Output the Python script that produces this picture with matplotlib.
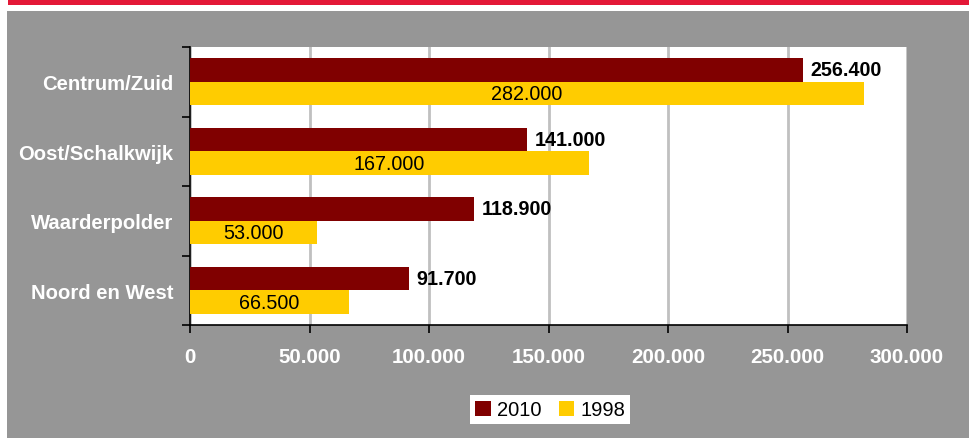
import matplotlib
matplotlib.use("Agg")
import matplotlib.pyplot as plt
from matplotlib.patches import Rectangle
from matplotlib.ticker import FuncFormatter, FixedLocator

plt.rcParams['font.family'] = ['Liberation Sans', 'DejaVu Sans']

categories = ["Centrum/Zuid", "Oost/Schalkwijk", "Waarderpolder", "Noord en West"]
series_names = ["2010", "1998"]
values_2010 = [256400, 141000, 118900, 91700]
values_1998 = [282000, 167000, 53000, 66500]
x_ticks = [0, 50000, 100000, 150000, 200000, 250000, 300000]

W, H = 969, 439
fig = plt.figure(figsize=(W / 100, H / 100), dpi=100, facecolor="white")

# background decorations
fig.patches.append(Rectangle((7 / W, 0), 1 - 7 / W, 1 - 12 / H, transform=fig.transFigure,
                             facecolor="#969696", edgecolor="none", zorder=-10))
fig.patches.append(Rectangle((8 / W, 1 - 6 / H), 1 - 8 / W, 6 / H, transform=fig.transFigure,
                             facecolor="#E31837", edgecolor="none", zorder=-10))

left, right, top, bottom = 190, 907, 48, 326
ax = fig.add_axes([left / W, 1 - bottom / H, (right - left) / W, (bottom - top) / H])
ax.set_facecolor("white")

def fmt(v):
    return f"{int(v):,}".replace(",", ".")

pos = list(range(len(categories)))
h = 0.34
bars10 = ax.barh([p - h / 2 for p in pos], values_2010, height=h, color="#800000", label=series_names[0], zorder=3)
bars98 = ax.barh([p + h / 2 for p in pos], values_1998, height=h, color="#FFCC00", label=series_names[1], zorder=3)

for b, v in zip(bars10, values_2010):
    ax.annotate(fmt(v), (b.get_width(), b.get_y() + b.get_height() / 2), xytext=(5.5, 0),
                textcoords="offset points", ha="left", va="center", fontsize=14.2,
                fontweight="bold", color="black", zorder=5)
for b, v in zip(bars98, values_1998):
    ax.text(b.get_width() / 2, b.get_y() + b.get_height() / 2, fmt(v), ha="center", va="center",
            fontsize=14.2, color="black", zorder=5)

ax.set_xlim(0, 300000)
ax.set_ylim(len(categories) - 0.5, -0.5)

ax.xaxis.set_major_locator(FixedLocator(x_ticks))
ax.xaxis.set_major_formatter(FuncFormatter(lambda v, p: fmt(v)))
ax.grid(axis="x", color="#C0C0C0", linewidth=2, zorder=0)
ax.set_axisbelow(True)

ax.yaxis.set_major_locator(FixedLocator([p - 0.5 for p in pos] + [len(pos) - 0.5]))
ax.yaxis.set_major_formatter(FuncFormatter(lambda v, p: ""))
ax.yaxis.set_minor_locator(FixedLocator(pos))
ax.set_yticks(pos, categories, minor=True)

ax.tick_params(axis="y", which="major", length=6, width=1.2, direction="out", color="black")
ax.tick_params(axis="y", which="minor", length=0, pad=12, labelsize=14.6, labelcolor="white")
ax.tick_params(axis="x", which="major", length=6, width=1.2, direction="out", color="black",
               pad=9.5, labelsize=14.8, labelcolor="white")
for lab in ax.get_yticklabels(minor=True) + ax.get_xticklabels():
    lab.set_fontweight("bold")

for s in ["top", "right"]:
    ax.spines[s].set_visible(False)
for s in ["left", "bottom"]:
    ax.spines[s].set_color("black")
    ax.spines[s].set_linewidth(1.2)

leg = fig.legend(loc="center", bbox_to_anchor=(0.568, 0.064), ncol=2, frameon=True,
                 fancybox=False, facecolor="white", edgecolor="none", framealpha=1,
                 fontsize=14.5, handlelength=0.75, handleheight=0.75, handletextpad=0.3,
                 columnspacing=0.9, borderpad=0.25, borderaxespad=0)

fig.savefig("out.png", dpi=100, facecolor="white")
